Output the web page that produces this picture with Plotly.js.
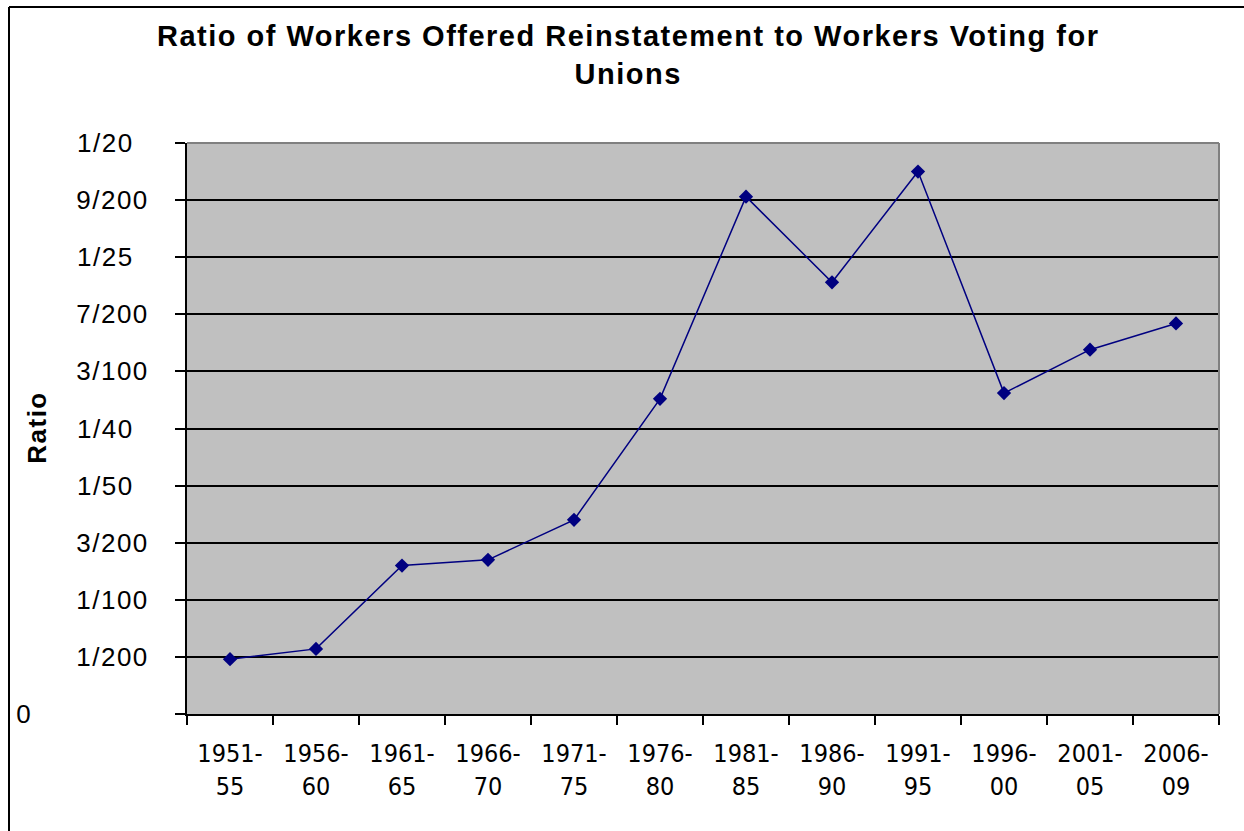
<!DOCTYPE html>
<html>
<head>
<meta charset="utf-8">
<script src="https://cdn.plot.ly/plotly-3.0.1.min.js"></script>
<style>
html,body{margin:0;padding:0;background:#fff;}
#chart{width:1244px;height:831px;}
#chart .gtitle{letter-spacing:1.5px;}
#chart .annotation-text{letter-spacing:1.5px;}
</style>
</head>
<body>
<div id="chart"></div>
<script>
const periods = ["1951-<br>55","1956-<br>60","1961-<br>65","1966-<br>70","1971-<br>75","1976-<br>80","1981-<br>85","1986-<br>90","1991-<br>95","1996-<br>00","2001-<br>05","2006-<br>09"];
const ratios = [0.0048, 0.0057, 0.0130, 0.0135, 0.0170, 0.0276, 0.0453, 0.0378, 0.0475, 0.0281, 0.0319, 0.0342];
const yTickVals = [0, 0.005, 0.01, 0.015, 0.02, 0.025, 0.03, 0.035, 0.04, 0.045, 0.05];
const yTickText = ["0", "1/200", "1/100", "3/200", "1/50", "1/40", "3/100", "7/200", "1/25", "9/200", "1/20"];

const W = 1244, H = 831;
const L = 187, R = 1219, T = 143, B = 714;
const pw = R - L, ph = B - T;
const px2x = (px) => (px - L) / pw;
const py2y = (py) => (B - py) / ph;

const annotations = yTickVals.map((v, i) => ({
  xref: 'paper', yref: 'y',
  x: v === 0 ? px2x(15) : px2x(78),
  y: v, xanchor: 'left', yanchor: 'middle',
  text: yTickText[i], showarrow: false,
  font: {family: 'Liberation Sans, Arial, sans-serif', size: 26, color: '#000'}
}));
annotations.push({
  xref: 'paper', yref: 'paper', x: px2x(37), y: py2y(428),
  xanchor: 'center', yanchor: 'middle', textangle: -90,
  text: '<b>Ratio</b>', showarrow: false,
  font: {family: 'Liberation Sans, Arial, sans-serif', size: 26, color: '#000'}
});

const trace = {
  x: periods, y: ratios, type: 'scatter', mode: 'lines+markers',
  line: {color: '#000080', width: 1.5},
  marker: {symbol: 'diamond', size: 11, color: '#000080'},
  cliponaxis: false
};

const layout = {
  width: W, height: H,
  margin: {l: L, r: W - R, t: T, b: H - B},
  paper_bgcolor: '#ffffff', plot_bgcolor: '#c0c0c0',
  showlegend: false,
  font: {family: 'Liberation Sans, Arial, sans-serif', color: '#000'},
  title: {
    text: '<b>Ratio of Workers Offered Reinstatement to Workers Voting for<br>Unions</b>',
    xref: 'container', x: 0.505, xanchor: 'center',
    yref: 'container', y: 1 - 46 / H, yanchor: 'top',
    font: {family: 'Liberation Sans, Arial, sans-serif', size: 29, color: '#000'}
  },
  xaxis: {
    type: 'category', tickson: 'boundaries',
    ticks: 'outside', ticklen: 9, tickwidth: 2, tickcolor: '#000',
    showline: true, linecolor: '#000', linewidth: 2,
    showgrid: false, zeroline: false,
    tickfont: {family: 'Liberation Sans Narrow, DejaVu Sans Condensed, Liberation Sans, Arial, sans-serif', size: 25, color: '#000'},
    ticklabelstandoff: 16,
    range: [-0.5, 11.5]
  },
  yaxis: {
    range: [0, 0.05], tickvals: yTickVals, ticktext: yTickText,
    showticklabels: false,
    ticks: 'outside', ticklen: 10, tickwidth: 2, tickcolor: '#000',
    showline: true, linecolor: '#000', linewidth: 2,
    showgrid: true, gridcolor: '#000', gridwidth: 2,
    zeroline: false
  },
  annotations: annotations,
  shapes: [
    {type: 'line', xref: 'paper', yref: 'paper', x0: 0, x1: 1, y0: 1, y1: 1, layer: 'above', line: {color: '#808080', width: 2}},
    {type: 'line', xref: 'paper', yref: 'paper', x0: 1, x1: 1, y0: 0, y1: 1, layer: 'above', line: {color: '#808080', width: 2}},
    {type: 'line', xref: 'paper', yref: 'paper', x0: px2x(9), x1: px2x(9), y0: py2y(835), y1: py2y(7), layer: 'above', line: {color: '#000', width: 2}},
    {type: 'line', xref: 'paper', yref: 'paper', x0: px2x(9), x1: px2x(1250), y0: py2y(7), y1: py2y(7), layer: 'above', line: {color: '#000', width: 2}}
  ]
};

Plotly.newPlot('chart', [trace], layout, {displayModeBar: false, staticPlot: true});
</script>
</body>
</html>
